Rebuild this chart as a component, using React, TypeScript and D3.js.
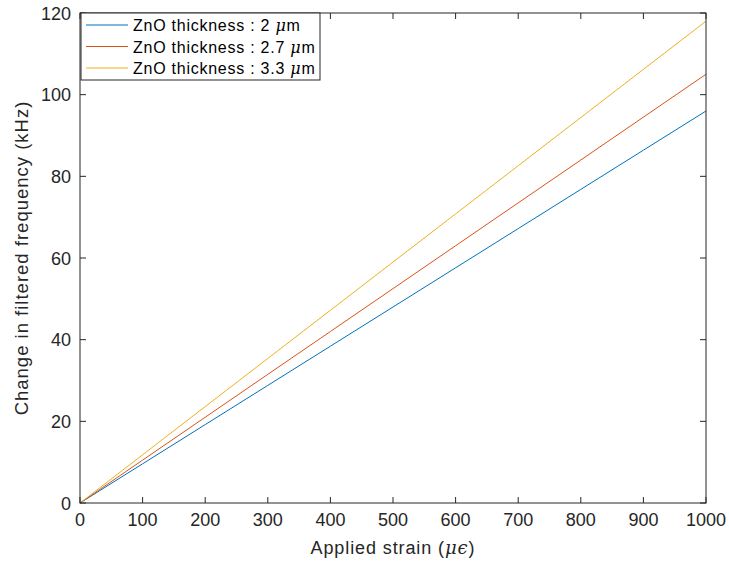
import React from "react";
import * as d3 from "d3";

const strain = [0, 100, 200, 300, 400, 500, 600, 700, 800, 900, 1000];
const series2um = [0, 9.6, 19.2, 28.8, 38.4, 48.0, 57.6, 67.2, 76.8, 86.4, 96.0];
const series27um = [0, 10.5, 21.0, 31.5, 42.0, 52.5, 63.0, 73.5, 84.0, 94.5, 105.0];
const series33um = [0, 11.8, 23.6, 35.4, 47.2, 59.0, 70.8, 82.6, 94.4, 106.2, 118.0];
const seriesNames = ["ZnO thickness : 2 ", "ZnO thickness : 2.7 ", "ZnO thickness : 3.3 "];
const xTicks = [0, 100, 200, 300, 400, 500, 600, 700, 800, 900, 1000];
const yTicks = [0, 20, 40, 60, 80, 100, 120];
const colors = ["#0072BD", "#D95319", "#EDB120"];

export default function App() {
  const W = 729, H = 569;
  const L = 80, R = 706, T = 13, B = 503;
  const x = d3.scaleLinear().domain([0, 1000]).range([L, R]);
  const y = d3.scaleLinear().domain([0, 120]).range([B, T]);
  const line = d3.line<number>().x((_, i) => x(strain[i])).y((d) => y(d));
  const all = [series2um, series27um, series33um];
  const font = "Helvetica, Arial, 'Liberation Sans', sans-serif";
  const tk = 6;
  const txt = "#262626";
  return (
    <svg width={W} height={H} style={{ position: "absolute", left: 0, top: 0, background: "#fff" }} fontFamily={font}>
      <rect x={0} y={0} width={W} height={H} fill="#fff" />
      {all.map((s, i) => (
        <path key={i} d={line(s) || ""} fill="none" stroke={colors[i]} strokeWidth={1} />
      ))}
      <rect x={L} y={T} width={R - L} height={B - T} fill="none" stroke={txt} strokeWidth={1} />
      {xTicks.map((t) => (
        <g key={"x" + t}>
          <line x1={x(t)} x2={x(t)} y1={B} y2={B - tk} stroke={txt} />
          <line x1={x(t)} x2={x(t)} y1={T} y2={T + tk} stroke={txt} />
          <text x={x(t)} y={B + 23} textAnchor="middle" fontSize={18} fill={txt}>{t}</text>
        </g>
      ))}
      {yTicks.map((t) => (
        <g key={"y" + t}>
          <line x1={L} x2={L + tk} y1={y(t)} y2={y(t)} stroke={txt} />
          <line x1={R} x2={R - tk} y1={y(t)} y2={y(t)} stroke={txt} />
          <text x={L - 9} y={y(t) + 6.5} textAnchor="end" fontSize={18} fill={txt}>{t}</text>
        </g>
      ))}
      <text x={(L + R) / 2} y={554} textAnchor="middle" fontSize={18} letterSpacing={0.9} fill={txt}>
        Applied strain (<tspan fontStyle="italic" fontFamily="'DejaVu Serif', serif">μϵ</tspan>)
      </text>
      <text transform={`translate(28,${(T + B) / 2}) rotate(-90)`} textAnchor="middle" fontSize={18.5} letterSpacing={1} fill={txt}>
        Change in filtered frequency (kHz)
      </text>
      <rect x={81} y={T} width={239} height={67} fill="#fff" stroke={txt} strokeWidth={1} />
      {seriesNames.map((n, i) => {
        const cy = 25 + i * 21.5;
        return (
          <g key={n}>
            <line x1={86} x2={128} y1={cy} y2={cy} stroke={colors[i]} strokeWidth={1} />
            <text x={133} y={cy + 6} fontSize={16} letterSpacing={0.75} fill="#000">
              {n}<tspan fontStyle="italic" fontFamily="'DejaVu Serif', serif">μ</tspan>m
            </text>
          </g>
        );
      })}
    </svg>
  );
}
